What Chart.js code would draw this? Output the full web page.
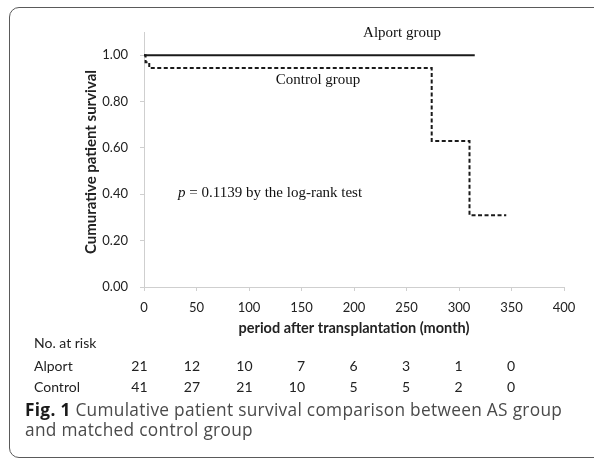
<!DOCTYPE html>
<html>
<head>
<meta charset="utf-8">
<script src="https://cdn.jsdelivr.net/npm/chart.js@4.4.0/dist/chart.umd.min.js"></script>
<style>
  html, body { margin:0; padding:0; background:#fff; overflow:hidden; }
  #wrap { position:relative; width:594px; height:462px; overflow:hidden; }
  #frame { position:absolute; left:9px; top:7px; width:620px; height:451px;
           border:1.6px solid #5a5a5a; border-radius:10px; box-sizing:border-box; }
  canvas { position:absolute; left:0; top:0; }
</style>
</head>
<body>
<div id="wrap">
  <div id="frame"></div>
  <canvas id="c" width="594" height="462"></canvas>
</div>
<script>
// ---- data ----
const alportMonths = [0, 315];
const alportSurvival = [1.0, 1.0];
const controlMonths = [0, 1.5, 5, 274, 310, 345];
const controlSurvival = [1.0, 0.97, 0.945, 0.63, 0.31, 0.31];
const xTickValues = [0, 50, 100, 150, 200, 250, 300, 350, 400];
const yTickValues = [0, 0.2, 0.4, 0.6, 0.8, 1.0];
const riskTimes = [0, 50, 100, 150, 200, 250, 300, 350];
const riskAlport = [21, 12, 10, 7, 6, 3, 1, 0];
const riskControl = [41, 27, 21, 10, 5, 5, 2, 0];
const seriesLabels = ['Alport group', 'Control group'];
const pValueText = '= 0.1139 by the log-rank test';
const xTitle = 'period after transplantation (month)';
const yTitle = 'Cumurative patient survival';
const captionBold = 'Fig. 1';
const captionLine1 = ' Cumulative patient survival comparison between AS group';
const captionLine2 = 'and matched control group';

const toPoints = (xs, ys) => xs.map((x, i) => ({x: x, y: ys[i]}));

const SANS = 'Lato, "Open Sans", sans-serif';
const SERIF = '"Liberation Serif", "DejaVu Serif", serif';

const textPlugin = {
  id: 'textPlugin',
  afterDraw(chart) {
    const ctx = chart.ctx;
    const xs = chart.scales.x;
    ctx.save();
    // in-plot annotations
    ctx.fillStyle = '#111';
    ctx.font = '15px ' + SERIF;
    ctx.textBaseline = 'middle';
    ctx.textAlign = 'center';
    ctx.fillText(seriesLabels[0], 402, 33);
    ctx.fillText(seriesLabels[1], 318, 80);
    ctx.textAlign = 'left';
    ctx.font = 'italic 15px ' + SERIF;
    ctx.fillText('p', 178, 193);
    const pw = ctx.measureText('p ').width;
    ctx.font = '15px ' + SERIF;
    ctx.fillText(pValueText, 178 + pw, 193);

    // axis titles
    ctx.fillStyle = '#222';
    ctx.font = 'bold 14.5px ' + SANS;
    ctx.textAlign = 'center';
    ctx.fillText(xTitle, (xs.left + xs.right) / 2, 328);
    ctx.save();
    ctx.translate(91, 162);
    ctx.rotate(-Math.PI / 2);
    ctx.font = 'bold 15px ' + SANS;
    ctx.fillText(yTitle, 0, 0);
    ctx.restore();

    // risk table
    ctx.font = '14px ' + SANS;
    ctx.fillStyle = '#222';
    ctx.textAlign = 'left';
    ctx.fillText('No. at risk', 34, 343);
    ctx.fillText('Alport', 34, 366);
    ctx.fillText('Control', 34, 387);
    ctx.textAlign = 'right';
    riskTimes.forEach((t, i) => {
      const px = xs.getPixelForValue(t);
      ctx.fillText(String(riskAlport[i]), px + 3.5, 366);
      ctx.fillText(String(riskControl[i]), px + 3.5, 387);
    });

    // caption
    ctx.textAlign = 'left';
    ctx.textBaseline = 'alphabetic';
    if ('letterSpacing' in ctx) ctx.letterSpacing = '0.3px';
    ctx.font = 'bold 17.3px "Open Sans", sans-serif';
    ctx.fillStyle = '#1a1a1a';
    ctx.fillText(captionBold, 25, 416);
    const bw = ctx.measureText(captionBold).width;
    ctx.font = '17.3px "Open Sans", sans-serif';
    ctx.fillStyle = '#4a4a4a';
    ctx.fillText(captionLine1, 25 + bw, 416);
    ctx.fillText(captionLine2, 25, 436);
    ctx.restore();
  }
};

new Chart(document.getElementById('c'), {
  type: 'line',
  data: {
    datasets: [
      { label: seriesLabels[0], data: toPoints(alportMonths, alportSurvival),
        borderColor: '#1a1a1a', borderWidth: 2, pointRadius: 0, stepped: 'before', fill: false },
      { label: seriesLabels[1], data: toPoints(controlMonths, controlSurvival),
        borderColor: '#1a1a1a', borderWidth: 2, borderDash: [4, 2.5], pointRadius: 0, stepped: 'before', fill: false }
    ]
  },
  options: {
    responsive: false,
    animation: false,
    devicePixelRatio: 1,
    layout: { padding: { left: 0, right: 30, top: 32, bottom: 0 } },
    plugins: { legend: { display: false }, tooltip: { enabled: false } },
    scales: {
      x: {
        type: 'linear', min: 0, max: 400,
        afterBuildTicks: s => { s.ticks = xTickValues.map(v => ({value: v})); },
        afterFit: s => { s.height = 175; },
        grid: { drawOnChartArea: false, drawTicks: true, tickLength: 4, color: '#cfcfcf' },
        border: { display: true, color: '#cfcfcf', width: 1 },
        ticks: { color: '#222', font: { family: SANS, size: 13 }, padding: 9, maxRotation: 0 }
      },
      y: {
        type: 'linear', min: 0, max: 1.1,
        afterBuildTicks: s => { s.ticks = yTickValues.map(v => ({value: v})); },
        afterFit: s => { s.width = 144; },
        grid: { drawOnChartArea: false, drawTicks: true, tickLength: 4, color: '#cfcfcf' },
        border: { display: true, color: '#cfcfcf', width: 1 },
        ticks: { color: '#222', font: { family: SANS, size: 13 }, padding: 12,
                 callback: v => Number(v).toFixed(2) }
      }
    }
  },
  plugins: [textPlugin]
});
</script>
</body>
</html>
